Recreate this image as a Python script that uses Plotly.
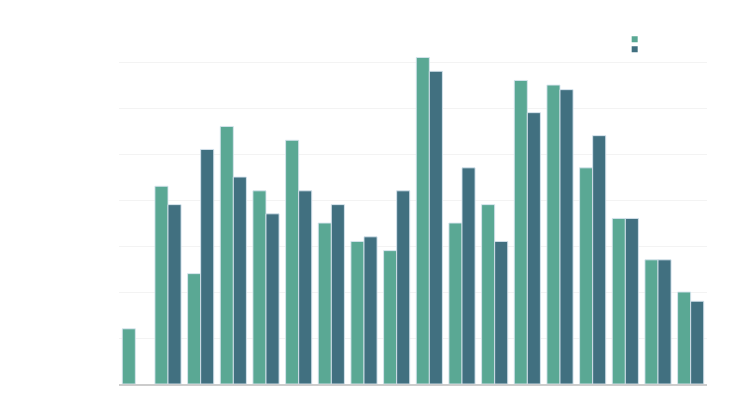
"""Grouped bar chart, two series, no labels."""
import plotly.graph_objects as go

categories = [str(i) for i in range(1, 19)]
series_a = [1.2, 4.3, 2.4, 5.6, 4.2, 5.3, 3.5, 3.1, 2.9, 7.1, 3.5, 3.9, 6.6, 6.5, 4.7, 3.6, 2.7, 2.0]
series_b = [None, 3.9, 5.1, 4.5, 3.7, 4.2, 3.9, 3.2, 4.2, 6.8, 4.7, 3.1, 5.9, 6.4, 5.4, 3.6, 2.7, 1.8]

GREEN = '#5aa894'
DARK = '#417080'

fig = go.Figure()

fig.add_trace(go.Bar(
    x=categories,
    y=series_a,
    marker=dict(color=GREEN, line=dict(color='rgba(215,228,238,0.9)', width=1)),
    showlegend=False
))
fig.add_trace(go.Bar(
    x=categories,
    y=series_b,
    marker=dict(color=DARK, line=dict(color='rgba(215,228,238,0.9)', width=1)),
    showlegend=False
))

# legend swatches only (no text in the original), one legend each so they sit close
for color, leg in [(GREEN, 'legend'), (DARK, 'legend2')]:
    fig.add_trace(go.Scatter(
        x=[None], y=[None],
        mode='markers',
        marker=dict(symbol='square', size=6, color=color),
        name=' ',
        legend=leg,
        showlegend=True
    ))

legend_style = dict(xanchor='left', yanchor='top', font=dict(size=6),
                    bgcolor='rgba(0,0,0,0)')

fig.update_layout(
    width=747,
    height=410,
    margin=dict(l=119, r=40, t=40, b=26),
    plot_bgcolor='white',
    paper_bgcolor='white',
    barmode='group',
    bargap=0.2,
    bargroupgap=0,
    legend=dict(x=0.843, y=1.0445, **legend_style),
    legend2=dict(x=0.843, y=1.015, **legend_style),
    xaxis=dict(
        showticklabels=False,
        showgrid=False,
        showline=True,
        linecolor='#cccccc',
        linewidth=2,
        ticks=''
    ),
    yaxis=dict(
        range=[0, 7.48],
        tick0=0,
        dtick=1,
        showticklabels=False,
        showgrid=True,
        gridcolor='#f3f3f3',
        gridwidth=1,
        zeroline=False,
        ticks=''
    )
)

fig.write_html("out.html", config={'displayModeBar': False},
               post_script="document.body.style.margin='0';")
